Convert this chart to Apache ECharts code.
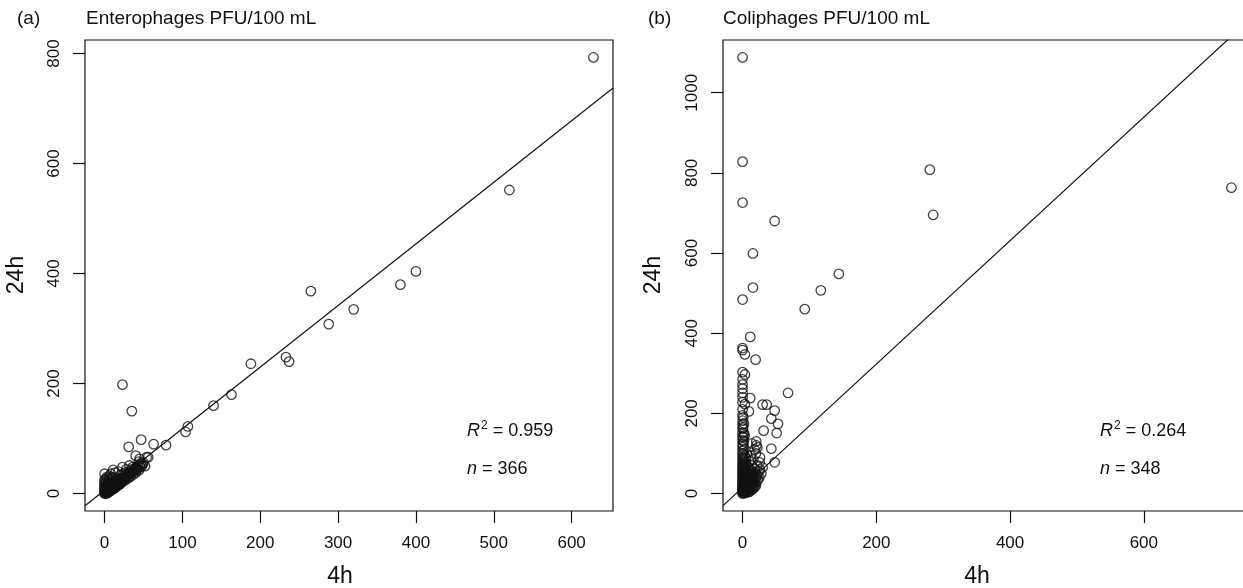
<!DOCTYPE html>
<html>
<head>
<meta charset="utf-8">
<script src="https://cdn.jsdelivr.net/npm/echarts@6/dist/echarts.min.js"></script>
<style>
html,body{margin:0;padding:0;background:#fff;}
#chart{width:1243px;height:588px;}
</style>
</head>
<body>
<div id="chart"></div>
<script>
// ---------- DATA ----------
const panelLetters = ['(a)', '(b)'];
const panelTitles = ['Enterophages PFU/100 mL', 'Coliphages PFU/100 mL'];
const r2Values = ['0.959', '0.264'];
const nValues = ['366', '348'];
const fitIntercept = [6, 15];
const fitSlope = [1.12, 1.54];
const xTicksA = [0, 100, 200, 300, 400, 500, 600];
const yTicksA = [0, 200, 400, 600, 800];
const xTicksB = [0, 200, 400, 600];
const yTicksB = [0, 200, 400, 600, 800, 1000];

// Enterophages: [4h, 24h]
const enteroPoints = [
  [628,793],[520,552],[400,404],[380,380],[320,335],[288,308],[265,368],[237,240],[233,248],
  [188,236],[163,180],[140,160],[107,122],[104,112],[79,88],[23,198],[35,150],[47,98],[63,90],
  [31,85],[56,66],[40,69],[11,43],[0,36],[23,48],[32,51],[45,63],[41,42],[49,54],[54,66],[32,30],[21,21],
  [0,0],[0,2],[0,5],[0,8],[0,12],[0,15],[0,20],[0,25],[1,1],[1,4],[1,10],[1,18],[2,0],[2,3],[2,7],
  [2,14],[2,22],[3,2],[3,5],[3,9],[3,16],[4,1],[4,6],[4,12],[4,28],[5,3],[5,8],[5,15],[5,20],[6,4],
  [6,10],[6,18],[7,6],[7,12],[7,24],[8,5],[8,9],[8,15],[9,7],[9,13],[9,20],[10,8],[10,12],[10,18],
  [10,30],[11,10],[11,16],[12,9],[12,14],[12,22],[13,12],[13,18],[14,11],[14,16],[14,26],[15,13],
  [15,20],[16,14],[16,24],[17,15],[17,19],[18,17],[18,28],[19,16],[19,22],[20,18],[20,25],[21,20],
  [21,34],[22,22],[22,28],[23,21],[24,26],[24,36],[25,24],[25,30],[26,28],[27,25],[27,38],[28,30],
  [29,33],[30,28],[30,36],[31,34],[32,40],[33,36],[34,32],[35,38],[35,44],[36,40],[37,35],[38,42],
  [39,46],[40,44],[40,38],[41,48],[42,45],[43,50],[44,42],[45,52],[46,48],[47,55],[48,50],[50,56],
  [52,50],[8,36],[18,40],[28,44],[36,48],[44,58],[3,30],[6,32],[14,38],[1,26],[5,24],[9,28]
];

// Coliphages: [4h, 24h]
const coliPoints = [
  [0,1088],[0,828],[0,726],[48,680],[15.5,599],[15.5,514],[0,484],[117,507],[93,460],[144,548],
  [280,808],[285,695],[731,763],[11.5,391],[0,363],[0,358],[3.5,347],[19.5,334],[0,303],[3.5,297],
  [0,272],[0,251],[68,251],[0,228],[3.5,223],[11.5,238],[30,222],[36,222],[48,207],[43,187],
  [53,174],[51,151],[31.5,157],[9.5,205],[20.5,130],[20.5,120],[43,112],[48,78],[25.5,78],[15.5,20],
  [0,0],[0,3],[0,6],[0,10],[0,14],[0,18],[0,22],[0,27],[0,32],[0,38],[0,44],[0,50],[0,56],[0,62],
  [0,68],[0,75],[0,82],[0,90],[0,98],[0,106],[0,115],[0,124],[0,133],[0,142],[0,152],[0,162],[0,172],
  [0,182],[0,195],[0,210],[0,240],[0,262],[0,285],[1,2],[1,8],[1,16],[1,25],[1,35],[1,47],[1,60],
  [1,72],[1,86],[1,100],[1,120],[1,140],[1,165],[1,190],[2,5],[2,12],[2,20],[2,30],[2,42],[2,55],
  [2,70],[2,88],[2,110],[2,130],[2,150],[2,175],[3,1],[3,9],[3,18],[3,28],[3,40],[3,52],[3,65],
  [3,80],[3,95],[3,145],[4,4],[4,14],[4,24],[4,36],[4,48],[4,62],[4,78],[5,6],[5,16],[5,30],[5,45],
  [5,60],[5,90],[6,3],[6,12],[6,26],[6,40],[6,55],[6,72],[7,8],[7,20],[7,35],[7,50],[8,5],[8,15],
  [8,30],[8,46],[8,65],[9,10],[9,25],[9,40],[9,58],[10,4],[10,18],[10,34],[10,52],[10,80],[11,12],
  [11,28],[11,44],[12,8],[12,22],[12,38],[12,60],[12,95],[13,15],[13,30],[13,48],[14,10],[14,26],
  [14,42],[14,70],[15,18],[15,34],[15,55],[16,12],[16,28],[16,45],[16,85],[17,22],[17,40],[18,16],
  [18,35],[18,62],[19,25],[19,50],[20,20],[20,40],[20,100],[21,30],[22,45],[22,70],[23,35],[24,55],
  [25,40],[26,60],[28,50],[30,65],[26,90],[18,110],[22,115],[14,125]
];

// ---------- BUILD ----------
function ext(pts, idx) {
  let mn = Infinity, mx = -Infinity;
  pts.forEach(p => { mn = Math.min(mn, p[idx]); mx = Math.max(mx, p[idx]); });
  const pad = (mx - mn) * 0.04;
  return [mn - pad, mx + pad];
}
const panels = [enteroPoints, coliPoints];
const xExt = panels.map(p => ext(p, 0));
const yExt = panels.map(p => ext(p, 1));
const xTicks = [xTicksA, xTicksB];
const yTicks = [yTicksA, yTicksB];

const FONT = '"Liberation Sans", Arial, Helvetica, sans-serif';
const INK = '#111';
const grids = [
  {left: 85, top: 40, width: 528, height: 471},
  {left: 723, top: 40, width: 528, height: 471}
];

const option = {
  backgroundColor: '#fff',
  animation: false,
  grid: grids.map(g => Object.assign({show: true, borderColor: INK, borderWidth: 1.2, backgroundColor: 'transparent', outerBoundsMode: 'none', containLabel: false}, g)),
  xAxis: [0, 1].map(i => ({
    type: 'value', gridIndex: i, min: xExt[i][0], max: xExt[i][1],
    axisLine: {show: false, onZero: false},
    axisTick: {show: true, length: 12, lineStyle: {color: INK, width: 1.2}, customValues: xTicks[i]},
    axisLabel: {show: true, margin: 24, fontSize: 17, color: INK, fontFamily: FONT, customValues: xTicks[i], formatter: v => String(v)},
    splitLine: {show: false}
  })),
  yAxis: [0, 1].map(i => ({
    type: 'value', gridIndex: i, min: yExt[i][0], max: yExt[i][1],
    axisLine: {show: false, onZero: false},
    axisTick: {show: true, length: 12, lineStyle: {color: INK, width: 1.2}, customValues: yTicks[i]},
    axisLabel: {show: true, rotate: 90, margin: 22, fontSize: 17, color: INK, fontFamily: FONT, customValues: yTicks[i], formatter: v => String(v)},
    splitLine: {show: false}
  })),
  series: [],
  graphic: []
};

[0, 1].forEach(i => {
  option.series.push({
    type: 'scatter', xAxisIndex: i, yAxisIndex: i,
    data: panels[i], symbol: 'circle', symbolSize: 9.5,
    itemStyle: {color: 'rgba(0,0,0,0)', borderColor: INK, borderWidth: 1.3},
    silent: true
  });
  const x0 = xExt[i][0], x1 = xExt[i][1];
  option.series.push({
    type: 'line', xAxisIndex: i, yAxisIndex: i, clip: true,
    data: [[x0, fitIntercept[i] + fitSlope[i] * x0], [x1, fitIntercept[i] + fitSlope[i] * x1]],
    showSymbol: false, symbol: 'none',
    lineStyle: {color: INK, width: 1.2}, silent: true
  });
});

const letterX = [17, 648];
const titleX = [86, 723];
const xNameX = [340, 977];
const yNameX = [17, 654];
const statX = [467, 1100];
[0, 1].forEach(i => {
  option.graphic.push(
    {type: 'text', left: letterX[i], top: 9, style: {text: panelLetters[i], font: '19px ' + FONT, fill: INK}},
    {type: 'text', left: titleX[i], top: 9, style: {text: panelTitles[i], font: '19px ' + FONT, fill: INK}},
    {type: 'text', x: xNameX[i], y: 577, style: {text: '4h', font: '23px ' + FONT, fill: INK, align: 'center', verticalAlign: 'middle'}},
    {type: 'text', x: yNameX[i], y: 275, rotation: Math.PI / 2, style: {text: '24h', font: '23px ' + FONT, fill: INK, align: 'center', verticalAlign: 'middle'}},
    {type: 'text', x: statX[i], y: 431, style: {
      text: '{i|R}{s|2}{t| = ' + r2Values[i] + '}', verticalAlign: 'middle',
      rich: {
        i: {fontFamily: FONT, fontSize: 18, fontStyle: 'italic', fill: INK, color: INK},
        s: {fontFamily: FONT, fontSize: 12, fill: INK, color: INK, padding: [0, 0, 10, 1]},
        t: {fontFamily: FONT, fontSize: 18, fill: INK, color: INK}
      }
    }},
    {type: 'text', x: statX[i], y: 469, style: {
      text: '{i|n}{t| = ' + nValues[i] + '}', verticalAlign: 'middle',
      rich: {
        i: {fontFamily: FONT, fontSize: 18, fontStyle: 'italic', fill: INK, color: INK},
        t: {fontFamily: FONT, fontSize: 18, fill: INK, color: INK}
      }
    }}
  );
});

const chart = echarts.init(document.getElementById('chart'), null, {renderer: 'canvas'});
chart.setOption(option);
</script>
</body>
</html>
